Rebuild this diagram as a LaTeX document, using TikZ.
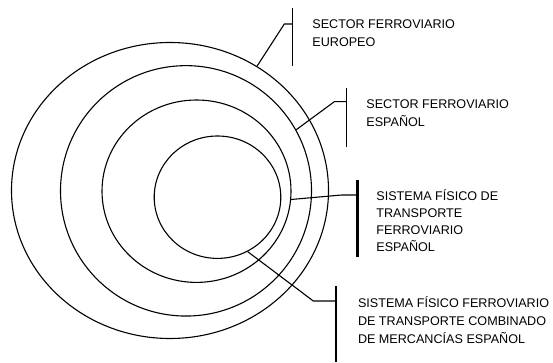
\documentclass[tikz,border=0pt]{standalone}
\usepackage{fontspec}
\setmainfont{Liberation Sans}
\usetikzlibrary{shapes.geometric}
\begin{document}
\begin{tikzpicture}[x=1pt,y=-1pt,
  ring/.style={draw,ellipse,line width=1.1pt,inner sep=0pt},
  leader/.style={line width=1.1pt},
  thinbar/.style={line width=1.2pt},
  thickbar/.style={line width=2.4pt},
  label/.style={anchor=north west,inner sep=0pt,align=left,
    font=\fontsize{12.6}{18}\selectfont}]
\useasboundingbox (0,0) rectangle (553,363);
% rings
\node[ring,minimum width=317pt,minimum height=296pt] (e1) at (170,190.5) {};
\node[ring,minimum width=251pt,minimum height=250.4pt] (e2) at (186,190.85) {};
\node[ring,minimum width=189pt,minimum height=182.4pt] (e3) at (196.5,191.2) {};
\node[ring,minimum width=126.6pt,minimum height=122.4pt] (e4) at (217.5,197.2) {};
% knees and bars
\coordinate (k1) at (284.3,24);
\coordinate (b1t) at (292.3,8);   \coordinate (b1b) at (292.3,66);
\coordinate (k2) at (334.3,101.7);
\coordinate (b2t) at (346.7,88);  \coordinate (b2b) at (346.7,147);
\coordinate (k3) at (341.7,195);
\coordinate (b3t) at (357.3,180); \coordinate (b3b) at (357.3,256.7);
\coordinate (k4) at (313.3,301);
\coordinate (b4t) at (335.7,286); \coordinate (b4b) at (335.7,362);
\draw[thinbar] (b1t) -- (b1b);
\draw[thinbar] (b2t) -- (b2b);
\draw[thickbar] (b3t) -- (b3b);
\draw[thickbar] (b4t) -- (b4b);
\draw[leader] (e1.55.5) -- (k1) -- (k1 -| b1t);
\draw[leader] (e2.29) -- (k2) -- (k2 -| b2t);
\draw[leader] (e3.-5.7) -- (k3) -- (k3 -| b3t);
\draw[leader] (e4.-61) -- (k4) -- (k4 -| b4t);
% labels
\node[label,font=\fontsize{12.6}{17.7}\selectfont] (t1) at (312.2,16.3)
  {\rule{0pt}{12pt}SECTOR FERROVIARIO\\EUROPEO};
\node[label] (t2) at (366.2,96)
  {\rule{0pt}{12pt}SECTOR FERROVIARIO\\ESPAÑOL};
\node[label,font=\fontsize{12.6}{17}\selectfont] (t3) at (376.2,188.7)
  {\rule{0pt}{12pt}SISTEMA FÍSICO DE\\TRANSPORTE\\FERROVIARIO\\ESPAÑOL};
\node[label] (t4) at (357.8,295.7)
  {\rule{0pt}{12pt}SISTEMA FÍSICO FERROVIARIO\\DE TRANSPORTE COMBINADO\\DE MERCANCÍAS ESPAÑOL};
\end{tikzpicture}
\end{document}
